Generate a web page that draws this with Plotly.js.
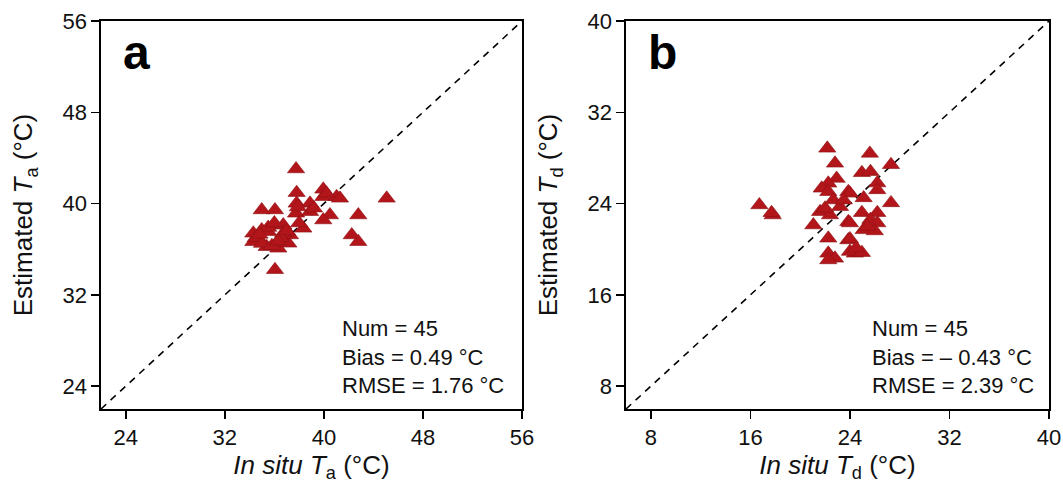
<!DOCTYPE html>
<html>
<head>
<meta charset="utf-8">
<script src="https://cdn.plot.ly/plotly-3.0.1.min.js"></script>
<style>html,body{margin:0;padding:0;background:#fff;}#chart{width:1063px;height:483px;}</style>
</head>
<body>
<div id="chart"></div>
<script>
// Panel a: air temperature (in situ vs estimated)
const taInSitu = [37.75, 37.8, 37.8, 37.75, 38.34, 38.88, 38.88, 39.95, 39.95, 41.03,
  40.49, 39.95, 34.98, 36.05, 34.98, 36.05, 36.72, 34.71, 35.38, 36.32,
  37.13, 37.26, 34.3, 36.05, 34.3, 35.51, 36.72, 45.07, 42.78, 42.25,
  42.78, 41.3, 34.5, 35.0, 35.8, 36.5, 35.5, 36.3, 34.8, 37.0,
  36.0, 39.2, 38.0, 37.9, 40.2];
const taEst = [43.03, 40.96, 40.02, 39.15, 37.83, 40.02, 39.29, 41.25, 40.6, 40.6,
  39.0, 38.56, 39.44, 39.44, 37.69, 38.12, 38.12, 36.96, 36.22, 36.08,
  36.52, 37.25, 36.66, 34.2, 37.4, 37.54, 37.4, 40.46, 39.0, 37.25,
  36.66, 40.46, 37.0, 36.5, 36.3, 37.0, 37.9, 36.7, 37.3, 37.6,
  38.3, 39.6, 38.3, 39.7, 40.9];

// Panel b: dew point temperature
const tdInSitu = [16.72, 17.79, 22.18, 22.8, 22.93, 22.26, 21.73, 22.26, 23.87, 22.66,
  23.2, 21.6, 22.4, 21.06, 23.87, 22.26, 23.87, 22.26, 22.8, 22.26,
  24.4, 25.6, 27.3, 24.96, 25.65, 26.2, 26.2, 25.1, 24.0, 27.3,
  24.96, 26.2, 25.65, 26.2, 25.1, 26.0, 24.0, 24.0, 24.0, 24.96,
  24.5, 17.7, 22.0, 23.5, 25.4];
const tdEst = [23.88, 23.0, 28.84, 27.53, 26.2, 25.78, 25.34, 25.04, 25.04, 24.31,
  23.73, 23.29, 23.0, 22.12, 22.41, 20.96, 20.81, 19.64, 19.2, 19.06,
  19.64, 28.4, 27.4, 26.7, 26.8, 25.8, 25.2, 24.5, 24.9, 24.06,
  23.2, 23.2, 22.6, 22.3, 21.7, 21.6, 22.3, 20.9, 19.8, 19.7,
  20.1, 23.2, 23.6, 24.3, 22.0];

const oneToOneA = [22, 56];
const oneToOneB = [6, 40];
const ticksA = [24, 32, 40, 48, 56];
const ticksB = [8, 16, 24, 32, 40];
const statsA = ["Num = 45", "Bias = 0.49 °C", "RMSE = 1.76 °C"];
const statsB = ["Num = 45", "Bias = – 0.43 °C", "RMSE = 2.39 °C"];

const FONT = "Liberation Sans, Arial, sans-serif";
const red = "#B2161B";

const markerStyle = {symbol: "triangle-up", size: 15, color: red, line: {color: "#8E1014", width: 0.6}};
const dashStyle = {color: "#000", width: 1.6, dash: "7px,6px"};

const data = [
  {x: oneToOneA, y: oneToOneA, xaxis: "x", yaxis: "y", mode: "lines", line: dashStyle, hoverinfo: "skip"},
  {x: taInSitu, y: taEst, xaxis: "x", yaxis: "y", mode: "markers", marker: markerStyle},
  {x: oneToOneB, y: oneToOneB, xaxis: "x2", yaxis: "y2", mode: "lines", line: dashStyle, hoverinfo: "skip"},
  {x: tdInSitu, y: tdEst, xaxis: "x2", yaxis: "y2", mode: "markers", marker: markerStyle}
];

function axis(range, ticks, title, domain, anchor, standoff) {
  return {
    range: range, domain: domain, anchor: anchor,
    tickmode: "array", tickvals: ticks, ticktext: ticks.map(String),
    ticks: "outside", ticklen: 8, tickwidth: 1.5, tickcolor: "#000",
    showline: true, linecolor: "#000", linewidth: 1.6, mirror: true,
    showgrid: false, zeroline: false,
    tickfont: {family: FONT, size: 22, color: "#111"},
    title: {text: title, font: {family: FONT, size: 26, color: "#111"}, standoff: standoff}
  };
}

const layout = {
  width: 1063, height: 483,
  margin: {l: 101, r: 14, t: 21, b: 74},
  paper_bgcolor: "#fff", plot_bgcolor: "#fff",
  showlegend: false,
  xaxis: axis([22, 56], ticksA, "<i>In situ T</i><sub>a</sub> (°C)", [0, 0.4441], "y", 8),
  yaxis: axis([22, 56], ticksA, "Estimated <i>T</i><sub>a</sub> (°C)", [0, 1], "x", 22),
  xaxis2: axis([6, 40], ticksB, "<i>In situ T</i><sub>d</sub> (°C)", [0.5538, 1], "y2", 8),
  yaxis2: axis([6, 40], ticksB, "Estimated <i>T</i><sub>d</sub> (°C)", [0, 1], "x2", 22),
  annotations: [
    {xref: "x", yref: "y", x: 24.9, y: 53.2, text: "<b>a</b>", showarrow: false, xanchor: "center", yanchor: "middle", font: {family: FONT, size: 48, color: "#000"}},
    {xref: "x2", yref: "y2", x: 8.97, y: 37.2, text: "<b>b</b>", showarrow: false, xanchor: "center", yanchor: "middle", font: {family: FONT, size: 48, color: "#000"}},
    {xref: "x", yref: "y", x: 41.3, y: 26.56, text: statsA.join("<br>"), showarrow: false, xanchor: "left", yanchor: "middle", align: "left", font: {family: FONT, size: 22, color: "#111"}},
    {xref: "x2", yref: "y2", x: 25.6, y: 10.56, text: statsB.join("<br>"), showarrow: false, xanchor: "left", yanchor: "middle", align: "left", font: {family: FONT, size: 22, color: "#111"}}
  ]
};

Plotly.newPlot("chart", data, layout, {staticPlot: true, displayModeBar: false});
</script>
</body>
</html>
